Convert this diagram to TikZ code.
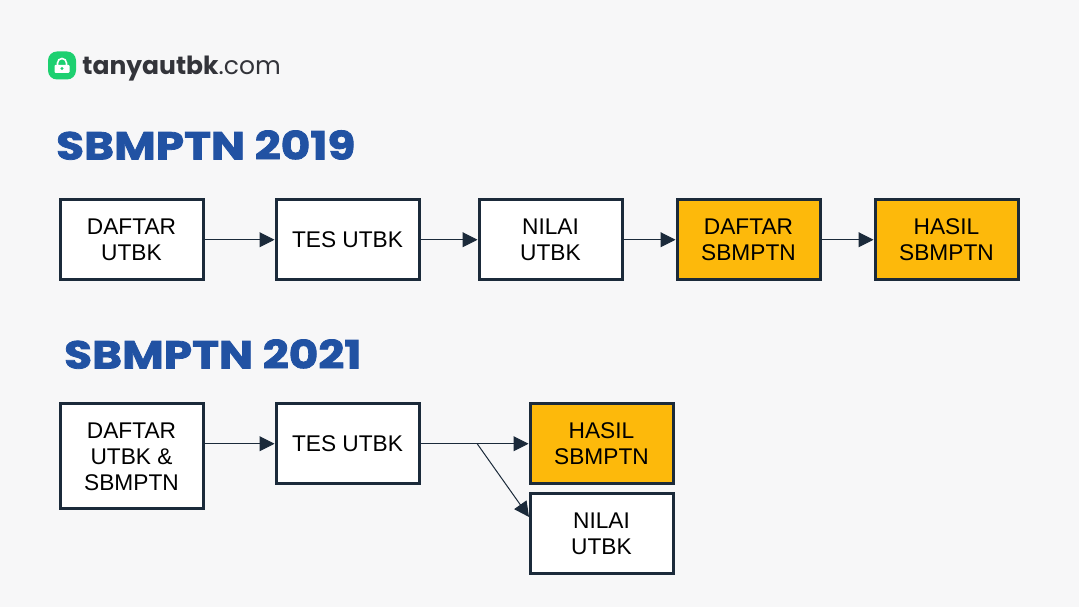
\documentclass[tikz,border=0pt]{standalone}
\usepackage{fontspec}
\setmainfont{Liberation Sans}
\newfontfamily\titlefont[FakeBold=2,FakeStretch=1.165]{Poppins Bold}
\newfontfamily\logobold{Poppins Bold}
\newfontfamily\logoreg{Poppins}
\usetikzlibrary{positioning, arrows.meta}
\definecolor{navy}{HTML}{1B2A3A}
\definecolor{paper}{HTML}{F7F7F8}
\definecolor{amber}{HTML}{FDB90B}
\definecolor{heading}{HTML}{2152A3}
\definecolor{lockgreen}{HTML}{1DD070}
\definecolor{logotext}{HTML}{33343A}

\begin{document}
\begin{tikzpicture}[
			x=1pt, y=1pt
			,node distance=70pt
			,stage/.style={draw=navy, line width=3pt, fill=white, text=black, align=center, minimum width=143pt, minimum height=79.5pt, inner sep=0pt, font=\fontsize{22.7}{26}\selectfont}
			,tall/.style={minimum height=105pt}
			,o/.style={fill=amber}
			,arr/.style={draw=navy, line width=1pt, -{Triangle[length=15pt, width=15pt]}}
			,title/.style={text=heading, inner sep=0pt, anchor=base west, font=\titlefont\fontsize{39}{39}\selectfont}
		]
			\fill [paper] (0,0) rectangle (1079,607);
			\useasboundingbox (0,0) rectangle (1079,607);

			% logo
			\node [fill=lockgreen, rounded corners=9pt, minimum width=28pt, minimum height=28pt, inner sep=0pt] (logo) at (62,541.5) {};
			\draw [white, line width=1.6pt] (57.5,541) -- (57.5,544) arc (180:0:4.5) -- (66.5,541);
			\fill [white, rounded corners=1pt] (54.5,534) rectangle (69.5,542);
			\fill [lockgreen] (62,538.5) circle (1.6);
			\node [right=6pt of logo, yshift=-3pt, inner sep=0pt, text=logotext, font=\fontsize{25}{26}\selectfont] (brand) {\logobold tanyautbk\logoreg .com};

			% 2019
			\node [title] (titleA) at (56,447.5) {SBMPTN 2019};
			\node [stage, anchor=north west] (daftarA) at (58.5,408.5) {DAFTAR\\UTBK};
			\node [stage, right=of daftarA] (tesA) {TES UTBK};
			\node [stage, right=57pt of tesA] (nilaiA) {NILAI\\UTBK};
			\node [stage, o, right=52pt of nilaiA] (sbmptnA) {DAFTAR\\SBMPTN};
			\node [stage, o, right=52pt of sbmptnA] (hasilA) {HASIL\\SBMPTN};
			\draw [arr] (daftarA) -- (tesA);
			\draw [arr] (tesA) -- (nilaiA);
			\draw [arr] (nilaiA) -- (sbmptnA);
			\draw [arr] (sbmptnA) -- (hasilA);

			% 2021
			\node [title] (titleB) at (64,238.5) {SBMPTN 2021};
			\node [stage, tall, anchor=north west] (daftarB) at (58.5,204.5) {DAFTAR\\UTBK \&\\SBMPTN};
			\node [stage, anchor=north west] (tesB) at (274.5,204.5) {TES UTBK};
			\node [stage, o, anchor=north west] (hasilB) at (528.5,204.5) {HASIL\\SBMPTN};
			\node [stage, below=7.5pt of hasilB] (nilaiB) {NILAI\\UTBK};
			\coordinate (split) at (477,163.5);
			\coordinate (nilaiIn) at (529,90);
			\draw [arr] (daftarB.east |- tesB) -- (tesB);
			\draw [arr] (tesB) -- (hasilB);
			\draw [arr] (split) -- (nilaiIn);
		\end{tikzpicture}
\end{document}
